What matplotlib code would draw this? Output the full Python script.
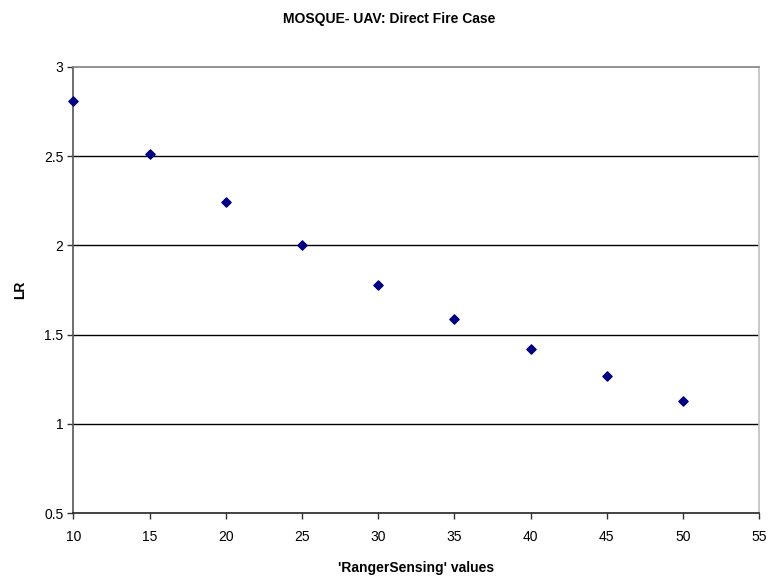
import matplotlib
matplotlib.use("Agg")
import matplotlib.pyplot as plt

plt.rcParams['font.family'] = ['Liberation Sans', 'DejaVu Sans']

ranger_sensing = [10, 15, 20, 25, 30, 35, 40, 45, 50]
lr_values = [2.81, 2.51, 2.24, 2.00, 1.78, 1.59, 1.42, 1.27, 1.13]
x_ticks = [10, 15, 20, 25, 30, 35, 40, 45, 50, 55]
y_ticks = [0.5, 1, 1.5, 2, 2.5, 3]
y_tick_labels = ['0.5', '1', '1.5', '2', '2.5', '3']

fig = plt.figure(figsize=(7.71, 5.81), dpi=100)
ax = fig.add_axes([0.0951, 0.1165, 0.8897, 0.7687])

ax.set_xlim(10, 55)
ax.set_ylim(0.5, 3)
ax.set_xticks(x_ticks)
ax.set_xticklabels([str(t) for t in x_ticks])
ax.set_yticks(y_ticks)
ax.set_yticklabels(y_tick_labels)

for y in [1, 1.5, 2, 2.5]:
    ax.axhline(y, color='black', linewidth=1.0, zorder=1)

ax.scatter(ranger_sensing, lr_values, marker='D', s=22, color='#000080',
           edgecolors='#000080', zorder=3, clip_on=False)

ax.spines['top'].set_color('#808080')
ax.spines['right'].set_color('#c0c0c0')
ax.spines['left'].set_color('#555555')
ax.spines['bottom'].set_color('#222222')
for s in ax.spines.values():
    s.set_linewidth(1.2)

ax.tick_params(axis='both', direction='out', length=4, width=1.0,
               colors='#333333', labelcolor='black', labelsize=10)
ax.tick_params(axis='x', pad=8)
ax.tick_params(axis='y', pad=3)

ax.set_xlabel("'RangerSensing' values", fontsize=10, fontweight='bold', labelpad=12)
ax.set_ylabel("LR", fontsize=10, fontweight='bold', labelpad=12)
fig.text(0.505, 0.968, "MOSQUE- UAV: Direct Fire Case", ha='center', va='center',
         fontsize=10, fontweight='bold')

fig.savefig('out.png', dpi=100)
